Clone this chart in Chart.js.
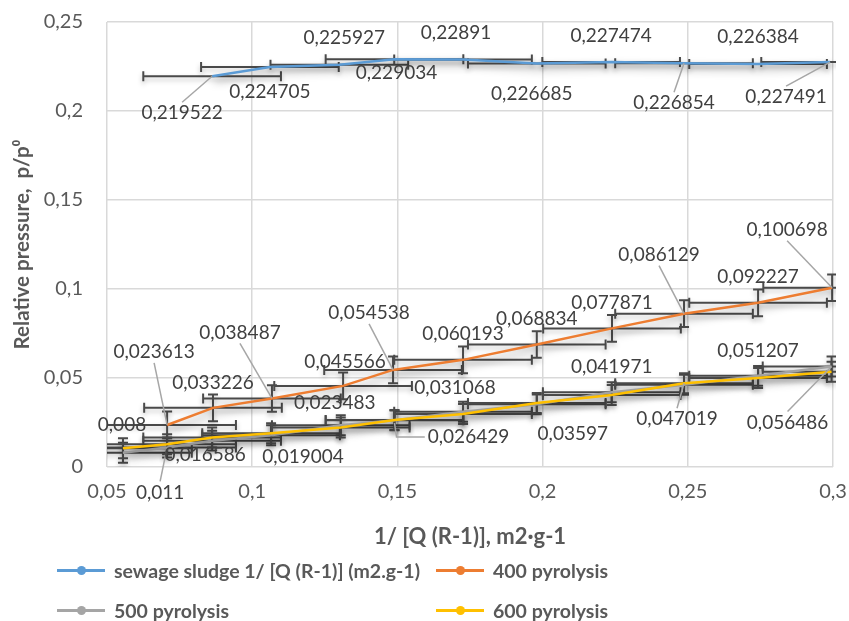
<!DOCTYPE html>
<html>
<head>
<meta charset="utf-8">
<script src="https://cdn.jsdelivr.net/npm/chart.js@4.4.1/dist/chart.umd.min.js"></script>
<style>
  html, body { margin: 0; padding: 0; background: #fff; }
  #wrap { position: relative; width: 849px; height: 621px; }
  #chart { position: absolute; left: 0; top: 0; }
  .legend { position: absolute; font: bold 19.5px Lato, sans-serif; color: #595959; display: flex; align-items: center; white-space: nowrap; height: 24px; }
  .legend .swatch { position: relative; width: 48px; height: 3px; margin-right: 9px; }
  .legend .swatch i { position: absolute; left: 20px; top: -3px; width: 9px; height: 9px; border-radius: 50%; }
</style>
</head>
<body>
<div id="wrap">
  <canvas id="chart" width="849" height="621"></canvas>
  <div id="legend"></div>
</div>
<script>
// --- data ---
const sludgeX = [0.0862, 0.1061, 0.1300, 0.1490, 0.1726, 0.1980, 0.2236, 0.2487, 0.2742, 0.2990];
const sludgeY = [0.219522, 0.224705, 0.225927, 0.229034, 0.22891, 0.226685, 0.227474, 0.226854, 0.226384, 0.227491];

const pyro400X = [0.0707, 0.0865, 0.1068, 0.1313, 0.1485, 0.1726, 0.1980, 0.2239, 0.2487, 0.2742, 0.2997];
const pyro400Y = [0.023613, 0.033226, 0.038487, 0.045566, 0.054538, 0.060193, 0.068834, 0.077871, 0.086129, 0.092227, 0.100698];

const pyroLowX = [0.0555, 0.0707, 0.0862, 0.1065, 0.1305, 0.1490, 0.1726, 0.1980, 0.2238, 0.2487, 0.2742, 0.2995];
const pyro500Y = [0.008, 0.011, 0.0148, 0.0178, 0.023483, 0.0262, 0.031068, 0.0352, 0.041971, 0.0462, 0.051207, 0.056486];
const pyro600Y = [0.0105, 0.0128, 0.016586, 0.019004, 0.0222, 0.026429, 0.0298, 0.03597, 0.0405, 0.047019, 0.0500, 0.0535];

// error bar sizes
const xError = 0.0237;
const sludgeYErr = 0;
const pyro400YErr = 0.0075;
const pyro500YErr = 0.0056;
const pyro600YErr = 0.0056;

// data label placement: [dx, dy, leader] in px, null = no label
const sludgeLabelPos = [[-30, 37, 1], [0, 25], [5, -27], [2, 14], [-7, -27], [-5, 30], [0, -26], [-10, 40, 1], [0, -27], [-44, 35, 1]];
const pyro400LabelPos = [[-13, -73, 1], [0, -25], [-32, -66, 1], [2, -24], [-24, -57, 1], [0, -26], [0, -26], [0, -26], [-25, -59, 1], [0, -26], [-45, -58, 1]];
const pyro500LabelPos = [[-1, -28], [-7, 45, 1], null, null, [-6, -22], null, [-8, -24], null, [0, -25], null, [0, -25], [-44, 56, 1]];
const pyro600LabelPos = [null, null, [-7, 17], [32, 24], null, [74, 17, 2], null, [36, 31], null, [-7, 36, 1], null, null];

const xTicks = { min: 0.05, max: 0.3, step: 0.05 };
const yTicks = { min: 0, max: 0.25, step: 0.05 };

const toPoints = (xs, ys) => xs.map((x, i) => ({ x: x, y: ys[i] }));
const fmt = v => String(v).replace('.', ',');
const tickFmt = v => String(Number(v.toFixed(2))).replace('.', ',');

const series = [
    { label: 'sewage sludge 1/ [Q (R-1)] (m2.g-1)', xs: sludgeX, ys: sludgeY, yErr: sludgeYErr, pos: sludgeLabelPos, color: '#5B9BD5', order: 3 },
    { label: '400 pyrolysis', xs: pyro400X, ys: pyro400Y, yErr: pyro400YErr, pos: pyro400LabelPos, color: '#ED7D31', order: 2 },
    { label: '500 pyrolysis', xs: pyroLowX, ys: pyro500Y, yErr: pyro500YErr, pos: pyro500LabelPos, color: '#A5A5A5', order: 1 },
    { label: '600 pyrolysis', xs: pyroLowX, ys: pyro600Y, yErr: pyro600YErr, pos: pyro600LabelPos, color: '#FFC000', order: 0 }
];

// soft shadow under each line, like the office preset
const lineShadow = {
    id: 'lineShadow',
    beforeDatasetDraw(chart) {
        const ctx = chart.ctx;
        ctx.save();
        ctx.shadowColor = 'rgba(0,0,0,0.4)';
        ctx.shadowBlur = 8;
        ctx.shadowOffsetX = 2;
        ctx.shadowOffsetY = 5;
    },
    afterDatasetDraw(chart) {
        chart.ctx.restore();
    }
};

const errorBars = {
    id: 'errorBars',
    beforeDatasetsDraw(chart) {
        const { ctx, chartArea, scales: { x, y } } = chart;
        const cap = 5;
        ctx.save();
        ctx.beginPath();
        ctx.rect(chartArea.left, chartArea.top - 5, chartArea.right - chartArea.left + 3, chartArea.bottom - chartArea.top + 5);
        ctx.clip();
        ctx.strokeStyle = '#4a4a4a';
        ctx.lineWidth = 2;
        ctx.shadowColor = 'rgba(0,0,0,0.25)';
        ctx.shadowBlur = 5;
        ctx.shadowOffsetY = 3;
        chart.data.datasets.forEach(ds => {
            ds.data.forEach(p => {
                const cx = x.getPixelForValue(p.x);
                const cy = y.getPixelForValue(p.y);
                const l = x.getPixelForValue(p.x - ds.xErr);
                const r = x.getPixelForValue(p.x + ds.xErr);
                ctx.beginPath();
                ctx.moveTo(l, cy); ctx.lineTo(r, cy);
                ctx.moveTo(l, cy - cap); ctx.lineTo(l, cy + cap);
                ctx.moveTo(r, cy - cap); ctx.lineTo(r, cy + cap);
                if (ds.yErr > 0) {
                    const t = y.getPixelForValue(p.y + ds.yErr);
                    const b = y.getPixelForValue(p.y - ds.yErr);
                    ctx.moveTo(cx, t); ctx.lineTo(cx, b);
                    ctx.moveTo(cx - cap, t); ctx.lineTo(cx + cap, t);
                    ctx.moveTo(cx - cap, b); ctx.lineTo(cx + cap, b);
                }
                ctx.stroke();
            });
        });
        ctx.restore();
    }
};

const dataLabels = {
    id: 'dataLabels',
    afterDatasetsDraw(chart) {
        const { ctx, scales: { x, y } } = chart;
        ctx.save();
        ctx.font = '19px Lato, sans-serif';
        ctx.textAlign = 'center';
        ctx.textBaseline = 'middle';
        chart.data.datasets.forEach(ds => {
            ds.data.forEach((p, i) => {
                const pos = ds.labelPos[i];
                if (!pos) return;
                const px = x.getPixelForValue(p.x);
                const py = y.getPixelForValue(p.y);
                const lx = px + pos[0];
                const ly = py + pos[1];
                const txt = fmt(p.y);
                if (pos[2]) {
                    const w = ctx.measureText(txt).width;
                    ctx.strokeStyle = '#a6a6a6';
                    ctx.lineWidth = 1.5;
                    ctx.beginPath();
                    if (pos[2] === 2) {
                        ctx.moveTo(lx - w / 2 - 3, ly);
                        ctx.lineTo(px + 2, ly);
                        ctx.lineTo(px, py + 3);
                    } else if (pos[1] < 0) {
                        ctx.moveTo(lx, ly + 11);
                        ctx.lineTo(px, py);
                    } else {
                        ctx.moveTo(lx, ly - 11);
                        ctx.lineTo(px, py);
                    }
                    ctx.stroke();
                }
                ctx.fillStyle = '#404040';
                ctx.fillText(txt, lx, ly);
            });
        });
        ctx.restore();
    }
};

const datasets = series.map(s => ({
    label: s.label,
    data: toPoints(s.xs, s.ys),
    borderColor: s.color,
    backgroundColor: s.color,
    borderWidth: 2.5,
    pointRadius: 0,
    tension: 0,
    order: s.order,
    xErr: xError,
    yErr: s.yErr,
    labelPos: s.pos
}));

const axisText = '#595959';
const gridColor = '#d9d9d9';

new Chart(document.getElementById('chart'), {
    type: 'scatter',
    data: { datasets: datasets },
    options: {
        responsive: false,
        animation: false,
        showLine: true,
        layout: { padding: { left: 0, top: 22, right: 16, bottom: 71 } },
        plugins: {
            legend: { display: false },
            tooltip: { enabled: false }
        },
        scales: {
            x: {
                type: 'linear',
                min: xTicks.min,
                max: xTicks.max,
                afterFit: s => { s.height = 83; s.paddingLeft = 0; s.paddingRight = 0; },
                grid: { color: gridColor, lineWidth: 1.5, drawTicks: false },
                border: { display: false },
                ticks: { stepSize: xTicks.step, padding: 13, color: axisText, font: { family: 'Lato', size: 20 }, callback: tickFmt },
                title: { display: true, text: '1/ [Q (R-1)], m2·g-1', color: axisText, font: { family: 'Lato', size: 22, weight: 'bold' }, padding: { top: 2, bottom: 0 } }
            },
            y: {
                type: 'linear',
                min: yTicks.min,
                max: yTicks.max,
                afterFit: s => { s.width = 107; s.paddingTop = 0; s.paddingBottom = 0; },
                grid: { color: gridColor, lineWidth: 1.5, drawTicks: false },
                border: { display: false },
                ticks: { stepSize: yTicks.step, padding: 24, color: axisText, font: { family: 'Lato', size: 20 }, callback: tickFmt },
                title: { display: true, text: 'Relative pressure,  p/p⁰', color: axisText, font: { family: 'Lato', size: 20.5, weight: 'bold' }, padding: { top: 10, bottom: 0 } }
            }
        }
    },
    plugins: [lineShadow, errorBars, dataLabels]
});

// legend in two rows, like the original
const legendSpots = [[57, 558], [436, 558], [57, 598], [436, 598]];
const legendEl = document.getElementById('legend');
series.forEach((s, i) => {
    const item = document.createElement('div');
    item.className = 'legend';
    item.style.left = legendSpots[i][0] + 'px';
    item.style.top = legendSpots[i][1] + 'px';
    item.innerHTML = '<span class="swatch" style="background:' + s.color + '"><i style="background:' + s.color + '"></i></span>' + s.label;
    legendEl.appendChild(item);
});
</script>
</body>
</html>
